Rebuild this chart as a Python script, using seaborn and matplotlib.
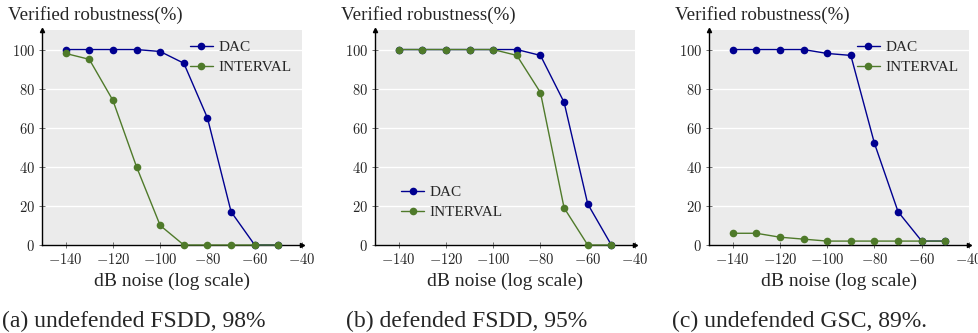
import numpy as np
import pandas as pd
import matplotlib
matplotlib.use("Agg")
import matplotlib.pyplot as plt
from matplotlib.ticker import FuncFormatter
import seaborn as sns

noise_db = [-140, -130, -120, -110, -100, -90, -80, -70, -60, -50]

dac_a = [100, 100, 100, 100, 99, 93, 65, 17, 0, 0]
interval_a = [98, 95, 74, 40, 10, 0, 0, 0, 0, 0]

dac_b = [100, 100, 100, 100, 100, 100, 97, 73, 21, 0]
interval_b = [100, 100, 100, 100, 100, 97, 78, 19, 0, 0]

dac_c = [100, 100, 100, 100, 98, 97, 52, 17, 2, 2]
interval_c = [6, 6, 4, 3, 2, 2, 2, 2, 2, 2]

series_names = ["DAC", "INTERVAL"]
captions = ["(a) undefended FSDD, 98%", "(b) defended FSDD, 95%", "(c) undefended GSC, 89%."]
y_label = "Verified robustness(%)"
x_label = "dB noise (log scale)"
x_ticks = [-140, -120, -100, -80, -60, -40]
y_ticks = [0, 20, 40, 60, 80, 100]

panels = [(dac_a, interval_a, "upper right"),
          (dac_b, interval_b, "lower left"),
          (dac_c, interval_c, "upper right")]

sns.set_theme(style="darkgrid")
plt.rcParams["font.family"] = ["Liberation Serif", "DejaVu Serif"]
plt.rcParams["mathtext.fontset"] = "cm"

colors = {"DAC": "#000090", "INTERVAL": "#4f7a2a"}

W, H = 979, 333
fig = plt.figure(figsize=(W / 100, H / 100), dpi=100)
lefts = [42, 375, 709]
ax_w = 260
ax_top, ax_bot = 30, 245
cap_x = [2, 346, 672]

fmt = FuncFormatter(lambda v, p: r"$%d$" % v)

for i, (dac, itv, loc) in enumerate(panels):
    ax = fig.add_axes([lefts[i] / W, (H - ax_bot) / H, ax_w / W, (ax_bot - ax_top) / H])
    ax.set_facecolor("#ebebeb")
    df = pd.DataFrame({
        "noise": noise_db * 2,
        "robust": dac + itv,
        "method": [series_names[0]] * len(noise_db) + [series_names[1]] * len(noise_db),
    })
    sns.lineplot(data=df, x="noise", y="robust", hue="method", palette=colors,
                 marker="o", markersize=5.5, markeredgewidth=0, linewidth=1.0,
                 ax=ax, clip_on=False, zorder=3)
    ax.set_xlim(-150, -40)
    ax.set_ylim(0, 110)
    ax.set_xticks(x_ticks)
    ax.set_yticks(y_ticks)
    ax.xaxis.set_major_formatter(fmt)
    ax.yaxis.set_major_formatter(fmt)
    ax.grid(False)
    ax.yaxis.grid(True, color="white", linewidth=1.0)
    for s in ["top", "right"]:
        ax.spines[s].set_visible(False)
    for s in ["left", "bottom"]:
        ax.spines[s].set_visible(True)
        ax.spines[s].set_color("black")
        ax.spines[s].set_linewidth(1.0)
    ax.tick_params(axis="both", which="major", direction="inout", length=4, width=0.6,
                   color="#555555", labelsize=10.5, pad=3, bottom=True, left=True)
    ax.plot([1], [0], marker=">", markersize=3, color="black", transform=ax.transAxes, clip_on=False)
    ax.plot([0], [1], marker="^", markersize=3, color="black", transform=ax.transAxes, clip_on=False)
    ax.set_xlabel(x_label, fontsize=14, labelpad=4)
    ax.set_ylabel("")
    ax.text(-34 / ax_w, 1 + 15 / (ax_bot - ax_top), y_label, transform=ax.transAxes,
            ha="left", va="center", fontsize=13.7)
    leg = ax.legend(loc=loc, frameon=False, fontsize=11, handlelength=1.5,
                    handletextpad=0.35, labelspacing=0.4, borderaxespad=0.3)
    if loc == "lower left":
        leg.set_bbox_to_anchor((0.06, 0.07), transform=ax.transAxes)
    fig.text(cap_x[i] / W, (H - 321) / H, captions[i], ha="left", va="center", fontsize=17)

fig.savefig("out.png", dpi=100)
